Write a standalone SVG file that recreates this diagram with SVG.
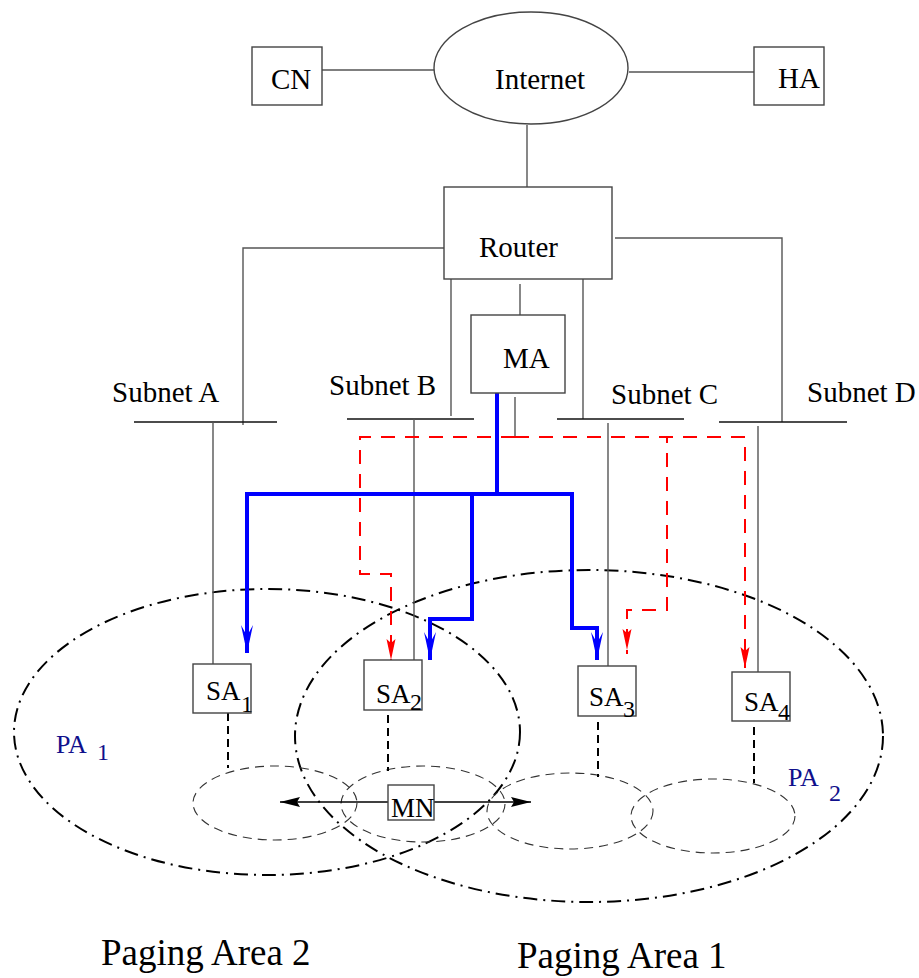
<svg xmlns="http://www.w3.org/2000/svg" width="919" height="978" viewBox="0 0 919 978">
<style>
  text { font-family: "Liberation Serif", "Times New Roman", serif; fill: #000; }
  .lbl { font-size: 29px; }
  .sa { font-size: 27px; }
  .sub { font-size: 24px; }
  .pa { font-size: 26px; fill: #10108c; }
  .big { font-size: 37px; }
  .box { fill: #fff; stroke: #444; stroke-width: 1.4; }
  .ln { fill: none; stroke: #555; stroke-width: 1.4; }
  .bus { fill: none; stroke: #111; stroke-width: 1.5; }
  .blue { fill: none; stroke: #0000ff; stroke-width: 4; stroke-linejoin: miter; }
  .red { fill: none; stroke: #ff0000; stroke-width: 2; stroke-dasharray: 14 10; }
  .pa-ell { fill: none; stroke: #000; stroke-width: 2; stroke-dasharray: 14 6 2 6; }
  .cell { fill: none; stroke: #333; stroke-width: 1.1; stroke-dasharray: 9 6; }
  .drop { fill: none; stroke: #000; stroke-width: 2; stroke-dasharray: 8 5; }
  .mv { fill: none; stroke: #000; stroke-width: 1.4; }
</style>
<defs>
  <marker id="ab" viewBox="-30 -8 32 16" refX="0" refY="0" markerWidth="32" markerHeight="16" markerUnits="userSpaceOnUse" orient="auto" overflow="visible">
    <path d="M0,0 L-28,-6 L-17,0 L-28,6 Z" fill="#0000ff"/>
  </marker>
  <marker id="ar" viewBox="-24 -6 26 12" refX="0" refY="0" markerWidth="26" markerHeight="12" markerUnits="userSpaceOnUse" orient="auto" overflow="visible">
    <path d="M0,0 L-21,-4.5 L-17,0 L-21,4.5 Z" fill="#ff0000"/>
  </marker>
  <marker id="ak" viewBox="-22 -6 24 12" refX="0" refY="0" markerWidth="24" markerHeight="12" markerUnits="userSpaceOnUse" orient="auto" overflow="visible">
    <path d="M0,0 L-20,-5 L-17,0 L-20,5 Z" fill="#000"/>
  </marker>
</defs>

<g id="paging-areas">
  <ellipse cx="267" cy="732" rx="253" ry="143" class="pa-ell"/>
  <ellipse cx="589" cy="736" rx="294" ry="166" class="pa-ell"/>
</g>
<g id="cells">
  <ellipse cx="275" cy="803" rx="82" ry="37" class="cell"/>
  <ellipse cx="423" cy="804" rx="82" ry="38" class="cell"/>
  <ellipse cx="570" cy="811" rx="83" ry="38" class="cell"/>
  <ellipse cx="713" cy="816" rx="82" ry="37" class="cell"/>
</g>

<g id="connectors">
  <line x1="322" y1="70" x2="434" y2="70" class="ln"/>
  <line x1="629" y1="72" x2="754" y2="72" class="ln"/>
  <line x1="527" y1="125" x2="527" y2="187" class="ln"/>
  <polyline points="444,248 243,248 243,425" class="ln"/>
  <polyline points="615,238 782,238 782,422" class="ln"/>
  <line x1="451" y1="279" x2="451" y2="416" class="ln"/>
  <line x1="583" y1="279" x2="583" y2="419" class="ln"/>
  <line x1="520" y1="284" x2="520" y2="315" class="ln"/>
  <line x1="515" y1="397" x2="515" y2="436" class="ln"/>
  <line x1="134" y1="422" x2="277" y2="422" class="bus"/>
  <line x1="347" y1="419" x2="474" y2="419" class="bus"/>
  <line x1="557" y1="419" x2="684" y2="419" class="bus"/>
  <line x1="719" y1="422" x2="847" y2="422" class="bus"/>
  <line x1="213" y1="422" x2="213" y2="664" class="ln"/>
  <line x1="414" y1="419" x2="414" y2="665" class="ln"/>
  <line x1="608" y1="423" x2="608" y2="666" class="ln"/>
  <line x1="758" y1="426" x2="758" y2="672" class="ln"/>
  <line x1="228" y1="713" x2="228" y2="768" class="drop"/>
  <line x1="388" y1="715" x2="388" y2="771" class="drop"/>
  <line x1="598" y1="722" x2="598" y2="777" class="drop"/>
  <line x1="754" y1="727" x2="754" y2="783" class="drop"/>
  <polyline points="497,393 497,494 247,494 247,653" class="blue" marker-end="url(#ab)"/>
  <polyline points="497,494 472,494 472,619 430,619 430,660" class="blue" marker-end="url(#ab)"/>
  <polyline points="497,494 572,494 572,628 597,628 597,660" class="blue" marker-end="url(#ab)"/>
  <polyline points="515,437 360,437 360,574 391,574 391,660" class="red" marker-end="url(#ar)"/>
  <polyline points="515,437 667,437 667,610 627,610 627,650" class="red" marker-end="url(#ar)"/>
  <polyline points="515,437 745,437 745,668" class="red" marker-end="url(#ar)"/>
  <line x1="627" y1="650" x2="627" y2="654" stroke="#ff0000" stroke-width="2"/>
  <line x1="388" y1="802" x2="280" y2="802" class="mv" marker-end="url(#ak)"/>
  <line x1="434" y1="802" x2="531" y2="802" class="mv" marker-end="url(#ak)"/>
</g>

<g id="CN"><rect x="252" y="47" width="70" height="58" class="box"/><text x="271" y="89" class="lbl">CN</text></g>
<g id="Internet"><ellipse cx="531" cy="68" rx="97" ry="56" class="box"/><text x="495" y="89" class="lbl">Internet</text></g>
<g id="HA"><rect x="754" y="47" width="70" height="58" class="box"/><text x="778" y="88" class="lbl">HA</text></g>
<g id="Router"><rect x="444" y="187" width="168" height="92" class="box"/><text x="479" y="257" class="lbl">Router</text></g>
<g id="MA"><rect x="471" y="315" width="94" height="78" class="box"/><text x="503" y="368" class="lbl">MA</text></g>

<g id="SubnetA"><text x="112" y="402" class="lbl">Subnet A</text></g>
<g id="SubnetB"><text x="329" y="395" class="lbl">Subnet B</text></g>
<g id="SubnetC"><text x="611" y="404" class="lbl">Subnet C</text></g>
<g id="SubnetD"><text x="807" y="402" class="lbl">Subnet D</text></g>

<g id="SA1"><rect x="193" y="664" width="58" height="49" class="box"/><text x="206" y="700" class="sa">SA<tspan x="241" y="712" class="sub">1</tspan></text></g>
<g id="SA2"><rect x="364" y="660" width="58" height="50" class="box"/><text x="376" y="703" class="sa">SA<tspan x="410" y="710" class="sub">2</tspan></text></g>
<g id="SA3"><rect x="578" y="666" width="58" height="50" class="box"/><text x="589" y="706" class="sa">SA<tspan x="623" y="717" class="sub">3</tspan></text></g>
<g id="SA4"><rect x="732" y="672" width="58" height="49" class="box"/><text x="744" y="711" class="sa">SA<tspan x="778" y="720" class="sub">4</tspan></text></g>

<g id="MN"><rect x="388" y="785" width="46" height="35" class="box"/><text x="391" y="817" font-size="27">MN</text></g>

<g id="PA1"><text x="56" y="753" class="pa">PA<tspan x="97" y="760" font-size="24">1</tspan></text></g>
<g id="PA2"><text x="788" y="786" class="pa">PA<tspan x="829" y="801" font-size="24">2</tspan></text></g>

<g id="labels">
  <text x="101" y="965" class="big">Paging Area 2</text>
  <text x="517" y="968" class="big">Paging Area 1</text>
</g>
</svg>
